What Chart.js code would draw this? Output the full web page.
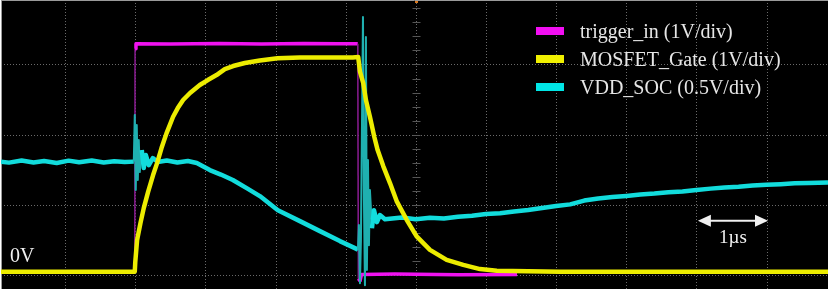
<!DOCTYPE html>
<html><head><meta charset="utf-8">
<script src="https://cdn.jsdelivr.net/npm/chart.js@4.4.1/dist/chart.umd.min.js"></script>
<style>html,body{margin:0;padding:0;background:#fff;overflow:hidden}#wrap{width:831px;height:293px;position:relative}</style>
</head><body><div id="wrap"><canvas id="c" width="831" height="293"></canvas></div>
<script>
// ---- data (time in microseconds, signals in volts) ----
const seriesNames = ['trigger_in (1V/div)', 'MOSFET_Gate (1V/div)', 'VDD_SOC (0.5V/div)'];
const voltsPerDiv = [1, 1, 0.5];
const zeroLevelDiv = 0.055;      // screen position of the 0V marker, in divisions
const xRangeUs = [-1.914, 9.875];
const yRangeDiv = [-0.192, 3.917];
const zeroLabel = '0V';
const scaleLabel = '1µs';
const scaleBarUs = [8.02, 9.02];
const scaleBarLevelDiv = 0.78;
const centerTimeUs = 4;

const triggerTimeUs = [-1.914,-0.007,-0.003,0.010,0.50,1.20,1.80,2.40,2.90,3.172,3.180,3.205,3.225,3.70,4.60,5.442];
const triggerVolts  = [0.00,0.00,3.17,3.24,3.235,3.245,3.235,3.245,3.24,3.24,-0.10,-0.13,-0.04,-0.035,-0.045,-0.04];

const gateTimeUs = [-1.914,-0.007,0.000,0.026,0.074,0.121,0.183,0.254,0.311,0.374,0.445,0.539,0.606,0.682,0.781,0.920,1.034,1.158,1.277,1.395,1.562,1.776,2.028,2.347,2.70,3.10,3.178,3.203,3.250,3.288,3.345,3.407,3.455,3.535,3.631,3.726,3.869,4.011,4.201,4.439,4.676,4.914,5.153,5.60,6.056,9.875];
const gateVolts  = [0.00,0.00,0.135,0.448,0.690,0.903,1.135,1.373,1.543,1.757,1.966,2.202,2.325,2.440,2.540,2.653,2.724,2.795,2.880,2.923,2.966,3.002,3.033,3.044,3.046,3.044,3.051,2.842,2.681,2.440,2.202,1.917,1.728,1.501,1.259,1.003,0.737,0.501,0.310,0.168,0.097,0.036,0.011,0.005,0.00,0.00];

const vddTimeUs = [-1.914,-1.80,-1.62,-1.45,-1.30,-1.12,-0.95,-0.80,-0.62,-0.45,-0.30,-0.15,-0.021,-0.007,0.007,0.021,0.036,0.050,0.064,0.093,0.121,0.150,0.193,0.250,0.321,0.45,0.60,0.75,0.877,1.063,1.22,1.391,1.60,1.776,2.033,2.347,2.632,2.917,3.131,3.160,3.174,3.188,3.203,3.217,3.246,3.260,3.274,3.288,3.302,3.317,3.331,3.345,3.374,3.402,3.445,3.488,3.559,3.80,4.00,4.20,4.40,4.60,4.80,5.00,5.20,5.40,5.60,5.80,6.00,6.20,6.40,6.60,6.80,7.00,7.20,7.40,7.60,7.80,8.00,8.20,8.40,8.60,8.80,9.00,9.20,9.40,9.60,9.875];
const vddVolts  = [0.782,0.775,0.790,0.776,0.786,0.772,0.789,0.777,0.790,0.776,0.785,0.779,0.782,1.113,0.580,1.042,0.651,0.935,0.708,0.864,0.736,0.829,0.757,0.807,0.779,0.790,0.776,0.786,0.772,0.722,0.690,0.651,0.590,0.537,0.437,0.359,0.288,0.217,0.167,0.160,0.153,0.331,-0.082,0.224,1.810,0.509,-0.096,1.668,0.011,0.793,0.188,0.580,0.309,0.437,0.352,0.402,0.373,0.385,0.372,0.383,0.378,0.390,0.398,0.410,0.415,0.428,0.438,0.452,0.466,0.478,0.505,0.520,0.530,0.538,0.548,0.555,0.565,0.570,0.580,0.590,0.598,0.603,0.612,0.618,0.622,0.628,0.630,0.634];

// ---- build ----
function toPoints(ts, vs, ch) {
  return ts.map((t, i) => ({ x: t, y: vs[i] / voltsPerDiv[ch] + zeroLevelDiv }));
}
const steep = c => {
  const dx = Math.abs(c.p1.x - c.p0.x), dy = Math.abs(c.p1.y - c.p0.y);
  return dy > 20 && dy > 3 * dx;
};
const colors = ['#f012f0', '#ecec00', '#12dcdc'];
const legendColors = ['#f20ff2', '#f0f000', '#00e6e6'];

const scopePlugin = {
  id: 'scope',
  beforeDatasetsDraw(chart) {
    const { ctx, chartArea: a, scales: { x, y } } = chart;
    ctx.save();
    ctx.fillStyle = '#000';
    ctx.fillRect(a.left, a.top, a.right - a.left, a.bottom - a.top);
    ctx.strokeStyle = '#6a6a6a';
    ctx.lineWidth = 1;
    ctx.setLineDash([1, 2]);
    for (let v = Math.ceil(x.min); v <= x.max; v++) {
      const px = Math.round(x.getPixelForValue(v)) + 0.5;
      ctx.beginPath(); ctx.moveTo(px, a.top); ctx.lineTo(px, a.bottom); ctx.stroke();
    }
    for (let v = Math.ceil(y.min); v <= y.max; v++) {
      const py = Math.round(y.getPixelForValue(v)) + 0.5;
      ctx.beginPath(); ctx.moveTo(a.left, py); ctx.lineTo(a.right, py); ctx.stroke();
    }
    ctx.setLineDash([]);
    // centre axis minor ticks
    const cx = Math.round(x.getPixelForValue(centerTimeUs)) + 0.5;
    ctx.strokeStyle = '#555';
    for (let v = Math.ceil(y.min * 5) / 5; v <= y.max; v += 0.2) {
      const py = Math.round(y.getPixelForValue(v)) + 0.5;
      ctx.beginPath(); ctx.moveTo(cx - 4, py); ctx.lineTo(cx + 4, py); ctx.stroke();
    }
    // trigger position marker
    ctx.fillStyle = '#d8761c';
    ctx.fillRect(cx - 1.5, a.top, 3, 3);
    // top and left frame
    ctx.strokeStyle = '#9a9a9a';
    ctx.beginPath(); ctx.moveTo(a.left, a.top + 0.5); ctx.lineTo(a.right, a.top + 0.5); ctx.stroke();
    ctx.beginPath(); ctx.moveTo(a.left + 0.5, a.top); ctx.lineTo(a.left + 0.5, a.bottom); ctx.stroke();
    ctx.restore();
  },
  afterDatasetsDraw(chart) {
    const { ctx, chartArea: a, scales: { x, y } } = chart;
    ctx.save();
    // legend
    const font = '"Liberation Serif","Times New Roman",serif';
    ctx.font = '20px ' + font;
    ctx.textBaseline = 'alphabetic';
    chart.data.datasets.forEach((ds, i) => {
      const top = a.top + 27 + i * 28;
      ctx.fillStyle = legendColors[i];
      ctx.fillRect(a.right - 292, top, 28, 8);
      ctx.fillStyle = '#e6e6e6';
      ctx.fillText(ds.label, a.right - 248, top + 10.5);
    });
    // 0V label
    ctx.fillStyle = '#f0f0f0';
    ctx.fillText(zeroLabel, a.left + 9, 262);
    // 1us scale bar
    const x0 = x.getPixelForValue(scaleBarUs[0]), x1 = x.getPixelForValue(scaleBarUs[1]);
    const yy = y.getPixelForValue(scaleBarLevelDiv);
    ctx.strokeStyle = '#f0f0f0'; ctx.fillStyle = '#f0f0f0'; ctx.lineWidth = 2;
    ctx.beginPath(); ctx.moveTo(x0 + 10, yy); ctx.lineTo(x1 - 10, yy); ctx.stroke();
    ctx.beginPath(); ctx.moveTo(x0, yy); ctx.lineTo(x0 + 13, yy - 6); ctx.lineTo(x0 + 13, yy + 6); ctx.closePath(); ctx.fill();
    ctx.beginPath(); ctx.moveTo(x1, yy); ctx.lineTo(x1 - 13, yy - 6); ctx.lineTo(x1 - 13, yy + 6); ctx.closePath(); ctx.fill();
    ctx.font = '19px ' + font;
    ctx.textAlign = 'center';
    ctx.fillText(scaleLabel, (x0 + x1) / 2, yy + 22);
    ctx.restore();
  }
};

new Chart(document.getElementById('c'), {
  type: 'line',
  data: {
    datasets: [
      { label: seriesNames[0], data: toPoints(triggerTimeUs, triggerVolts, 0), borderColor: colors[0], borderWidth: 3.5, order: 2,
        segment: { borderColor: c => steep(c) ? '#8a1c92' : undefined, borderWidth: c => steep(c) ? 1.5 : undefined } },
      { label: seriesNames[1], data: toPoints(gateTimeUs, gateVolts, 1), borderColor: colors[1], borderWidth: 4.5, order: 0 },
      { label: seriesNames[2], data: toPoints(vddTimeUs, vddVolts, 2), borderColor: colors[2], borderWidth: 4.5, order: 1,
        segment: { borderColor: c => steep(c) ? '#1fb0b0' : undefined, borderWidth: c => steep(c) ? 2 : undefined } }
    ]
  },
  options: {
    responsive: false, animation: false, devicePixelRatio: 1,
    layout: { padding: { left: 1, top: 0, right: 3, bottom: 4 } },
    elements: { point: { radius: 0 }, line: { tension: 0, borderJoinStyle: 'round', borderCapStyle: 'butt' } },
    plugins: { legend: { display: false }, tooltip: { enabled: false } },
    scales: {
      x: { type: 'linear', display: false, min: xRangeUs[0], max: xRangeUs[1] },
      y: { type: 'linear', display: false, min: yRangeDiv[0], max: yRangeDiv[1] }
    }
  },
  plugins: [scopePlugin]
});
</script>
</body></html>
